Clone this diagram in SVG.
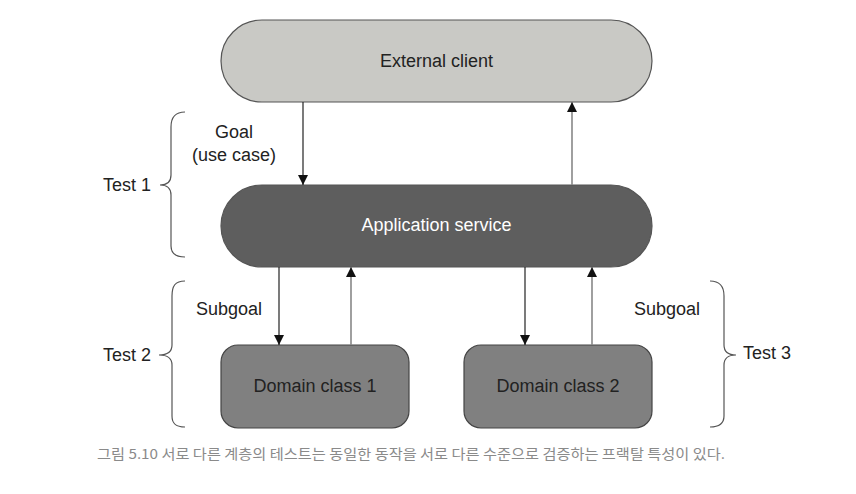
<svg xmlns="http://www.w3.org/2000/svg" width="856" height="494" viewBox="0 0 856 494">
<style>
.lbl{font-family:"Liberation Sans",Arial,sans-serif;font-size:18px;fill:#222}
.brace{fill:none;stroke:#555;stroke-width:1.2}
.dn{stroke:#222;stroke-width:1.2}
.up{stroke:#888;stroke-width:1.6}
.cap{font-family:"Noto Sans CJK KR",sans-serif;font-size:13.5px;fill:#8a8a8a}
</style>
<defs>
<marker id="ah" viewBox="0 0 10 10" refX="10" refY="5" markerWidth="10" markerHeight="10" markerUnits="userSpaceOnUse" orient="auto">
<path d="M0,0 L10,5 L0,10 Z" fill="#111"/>
</marker>
</defs>
<rect width="856" height="494" fill="#fff"/>
<g id="external-client">
<rect x="221" y="20" width="431" height="82" rx="41" fill="#c9c9c5" stroke="#555" stroke-width="1.2"/>
<text class="lbl" x="436.5" y="67" text-anchor="middle">External client</text>
</g>
<g id="application-service">
<rect x="221" y="185" width="431" height="82" rx="41" fill="#5e5e5e" stroke="#555" stroke-width="1.2"/>
<text class="lbl" x="436.5" y="231" text-anchor="middle" style="fill:#fff">Application service</text>
</g>
<g id="domain-class-1">
<rect x="221" y="345" width="188" height="83" rx="17" fill="#808080" stroke="#444" stroke-width="1.2"/>
<text class="lbl" x="315" y="392" text-anchor="middle">Domain class 1</text>
</g>
<g id="domain-class-2">
<rect x="464" y="345" width="188" height="83" rx="17" fill="#808080" stroke="#444" stroke-width="1.2"/>
<text class="lbl" x="558" y="392" text-anchor="middle">Domain class 2</text>
</g>
<g id="connectors">
<line class="dn" x1="303" y1="102" x2="303" y2="185" marker-end="url(#ah)"/>
<line class="up" x1="572" y1="185" x2="572" y2="102" marker-end="url(#ah)"/>
<line class="dn" x1="279" y1="267" x2="279" y2="345" marker-end="url(#ah)"/>
<line class="up" x1="351" y1="345" x2="351" y2="267" marker-end="url(#ah)"/>
<line class="dn" x1="525" y1="267" x2="525" y2="345" marker-end="url(#ah)"/>
<line class="up" x1="592" y1="345" x2="592" y2="267" marker-end="url(#ah)"/>
</g>
<g id="test-1">
<path class="brace" d="M185,112 C175,112 171,117 171,127 L171,175 C171,181 168,185 160,185 C168,185 171,189 171,195 L171,246 C171,253 175,257 185,257"/>
<text class="lbl" x="103" y="191">Test 1</text>
<text class="lbl" x="234" y="138" text-anchor="middle">Goal</text>
<text class="lbl" x="234" y="161" text-anchor="middle">(use case)</text>
</g>
<g id="test-2">
<path class="brace" d="M185,281 C175,281 172,286 172,296 L172,345 C172,351 168,355 159,355 C168,355 172,359 172,365 L172,416 C172,423 175,427 185,427"/>
<text class="lbl" x="103" y="361">Test 2</text>
<text class="lbl" x="196" y="315">Subgoal</text>
</g>
<g id="test-3">
<path class="brace" d="M710,281 C720,281 724,286 724,296 L724,345 C724,351 727,355 736,355 C727,355 724,359 724,365 L724,416 C724,423 720,427 710,427"/>
<text class="lbl" x="743" y="359">Test 3</text>
<text class="lbl" x="634" y="315">Subgoal</text>
</g>
<text class="cap" x="97" y="459" textLength="628" lengthAdjust="spacingAndGlyphs">그림 5.10 서로 다른 계층의 테스트는 동일한 동작을 서로 다른 수준으로 검증하는 프랙탈 특성이 있다.</text>
</svg>
